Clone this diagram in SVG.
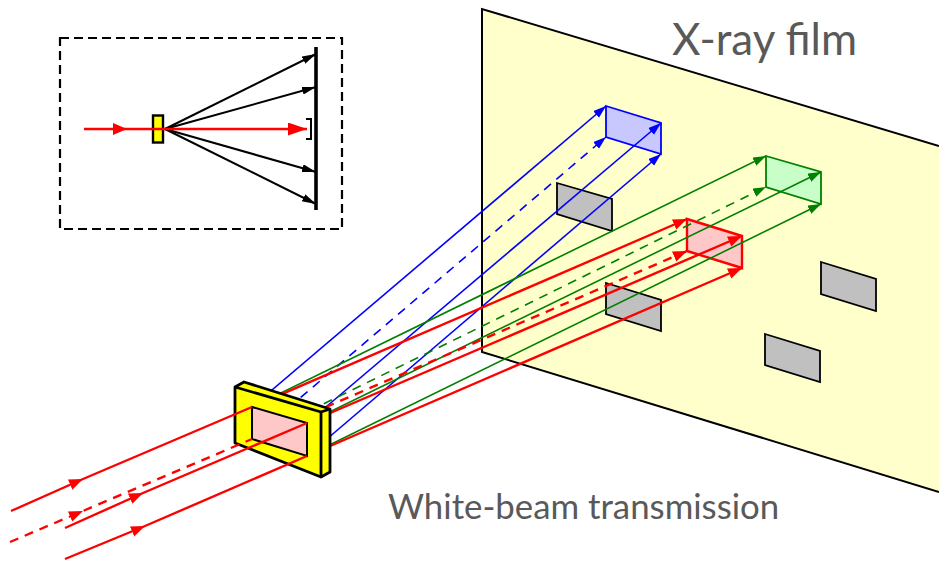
<svg xmlns="http://www.w3.org/2000/svg" width="939" height="564" viewBox="0 0 939 564">
<defs>
<marker id="ab" markerUnits="userSpaceOnUse" markerWidth="14" markerHeight="10" refX="13" refY="4.5" orient="auto"><path d="M0 0L13 4.5L0 9Z" fill="#0000ff"/></marker>
<marker id="ag" markerUnits="userSpaceOnUse" markerWidth="14" markerHeight="10" refX="13" refY="4.5" orient="auto"><path d="M0 0L13 4.5L0 9Z" fill="#008000"/></marker>
<marker id="ar" markerUnits="userSpaceOnUse" markerWidth="15" markerHeight="12" refX="14" refY="5.500" orient="auto"><path d="M0 0L14 5.500L0 11Z" fill="#ff0000"/></marker>
<marker id="ak" markerUnits="userSpaceOnUse" markerWidth="15" markerHeight="10" refX="14" refY="4" orient="auto"><path d="M0 0L14 4L0 8Z" fill="#000"/></marker>
<marker id="am" markerUnits="userSpaceOnUse" markerWidth="15" markerHeight="13" refX="14" refY="6" orient="auto"><path d="M0 0L14 6L0 12Z" fill="#ff0000"/></marker>
<marker id="ai" markerUnits="userSpaceOnUse" markerWidth="20" markerHeight="14" refX="19" refY="6.500" orient="auto"><path d="M0 0L19 6.500L0 13Z" fill="#ff0000"/></marker>
</defs>
<style>
.t{font-family:Lato,"Open Sans","Liberation Sans",sans-serif;fill:#595959}
.gray{fill:#c0c0c0;stroke:#000;stroke-width:1.8;stroke-linejoin:miter}
.b,.g,.r,.k{fill:none}
.b{stroke:#0000ff;stroke-width:1.6;marker-end:url(#ab)}
.g{stroke:#008000;stroke-width:1.6;marker-end:url(#ag)}
.r{stroke:#ff0000;stroke-width:2.4;marker-end:url(#ar)}
.in{stroke:#ff0000;stroke-width:2.4;fill:none;marker-mid:url(#ar)}
.d{stroke-dasharray:9 7}
.k{stroke:#000;stroke-width:2;marker-end:url(#ak)}
</style>
<g id="film">
<path d="M482 9L939 146V492L482 352Z" fill="#ffffcc"/>
<path d="M939 146L482 9V352L939 492" fill="none" stroke="#000" stroke-width="2"/>
</g>
<g id="spots">
<path id="spot1" class="gray" d="M557 183L612 199V231L557 214Z"/>
<path id="spot2" class="gray" d="M606 283L661 300V331L606 314Z"/>
<path id="spot3" class="gray" d="M821 262L876 279V311L821 294Z"/>
<path id="spot4" class="gray" d="M765 334L820 351V382L765 365Z"/>
</g>
<g id="box-blue">
<path d="M606 106L661 123V154L606 137Z" fill="#c8c8ff"/>
<path d="M606 106L661 123V154L606 137Z" fill="none" stroke="#0000ff" stroke-width="1.8"/>
</g>
<g id="box-green">
<path d="M766 156L821 172V204L766 187Z" fill="#c8ffc8"/>
<path d="M766 156L821 172V204L766 187Z" fill="none" stroke="#008000" stroke-width="1.8"/>
</g>
<g id="box-red">
<path d="M687 219L742 236V268L687 251Z" fill="#ffc8c8"/>
<path d="M687 219L742 236V268L687 251Z" fill="none" stroke="#ff0000" stroke-width="2.4"/>
</g>
<g id="connectors">
<path class="b" d="M252 407L606 106"/>
<path class="b" d="M307 423L661 123"/>
<path class="b" d="M307 456L661 154"/>
<path class="b d" d="M252 439L606 137"/>
<path class="g" d="M252 407L766 156"/>
<path class="g" d="M307 423L821 172"/>
<path class="g" d="M307 456L821 204"/>
<path class="g d" d="M252 439L766 187"/>
<path class="r" d="M252 407L687 219"/>
<path class="r" d="M307 423L742 236"/>
<path class="r" d="M307 456L742 268"/>
<path class="r d" d="M252 439L687 251"/>
</g>
<g id="crystal">
<path d="M235 387L244 382L330 409V472L321 477L235 443Z" fill="#ffff00" stroke="#000" stroke-width="2.8" stroke-linejoin="round"/>
<path d="M235 387L321 412V477M321 412L330 409" fill="none" stroke="#000" stroke-width="2.8"/>
<path d="M252 407L307 423V456L252 439Z" fill="#ffc8c8" stroke="#000" stroke-width="2"/>
</g>
<g id="incoming">
<path class="in" d="M11 511L83 479L252 407"/>
<path class="in d" d="M10 542L83 511L252 439"/>
<path class="in" d="M65 528L143 493L307 423"/>
<path class="in" d="M65 559L145 526L307 456"/>
</g>
<g id="inset">
<rect x="60" y="38" width="282" height="191" fill="none" stroke="#000" stroke-width="2.2" stroke-dasharray="9 5"/>
<path d="M316 47V210" stroke="#000" stroke-width="3.6" fill="none"/>
<path class="k" d="M165 129L316 54"/>
<path class="k" d="M165 129L316 87"/>
<path class="k" d="M165 129L316 172"/>
<path class="k" d="M165 129L316 204"/>
<rect x="153" y="115.500" width="10" height="27" fill="#ffff00" stroke="#000" stroke-width="2.4"/>
<path d="M84 129H127H307" fill="none" stroke="#ff0000" stroke-width="2.4" marker-mid="url(#am)" marker-end="url(#ai)"/>
<path d="M306 119H311V139H306" fill="none" stroke="#000" stroke-width="2"/>
</g>
<g id="labels">
<text class="t" x="672" y="55" font-size="43.900">X-ray film</text>
<text class="t" x="388" y="519" font-size="34.800">White-beam transmission</text>
</g>
</svg>
